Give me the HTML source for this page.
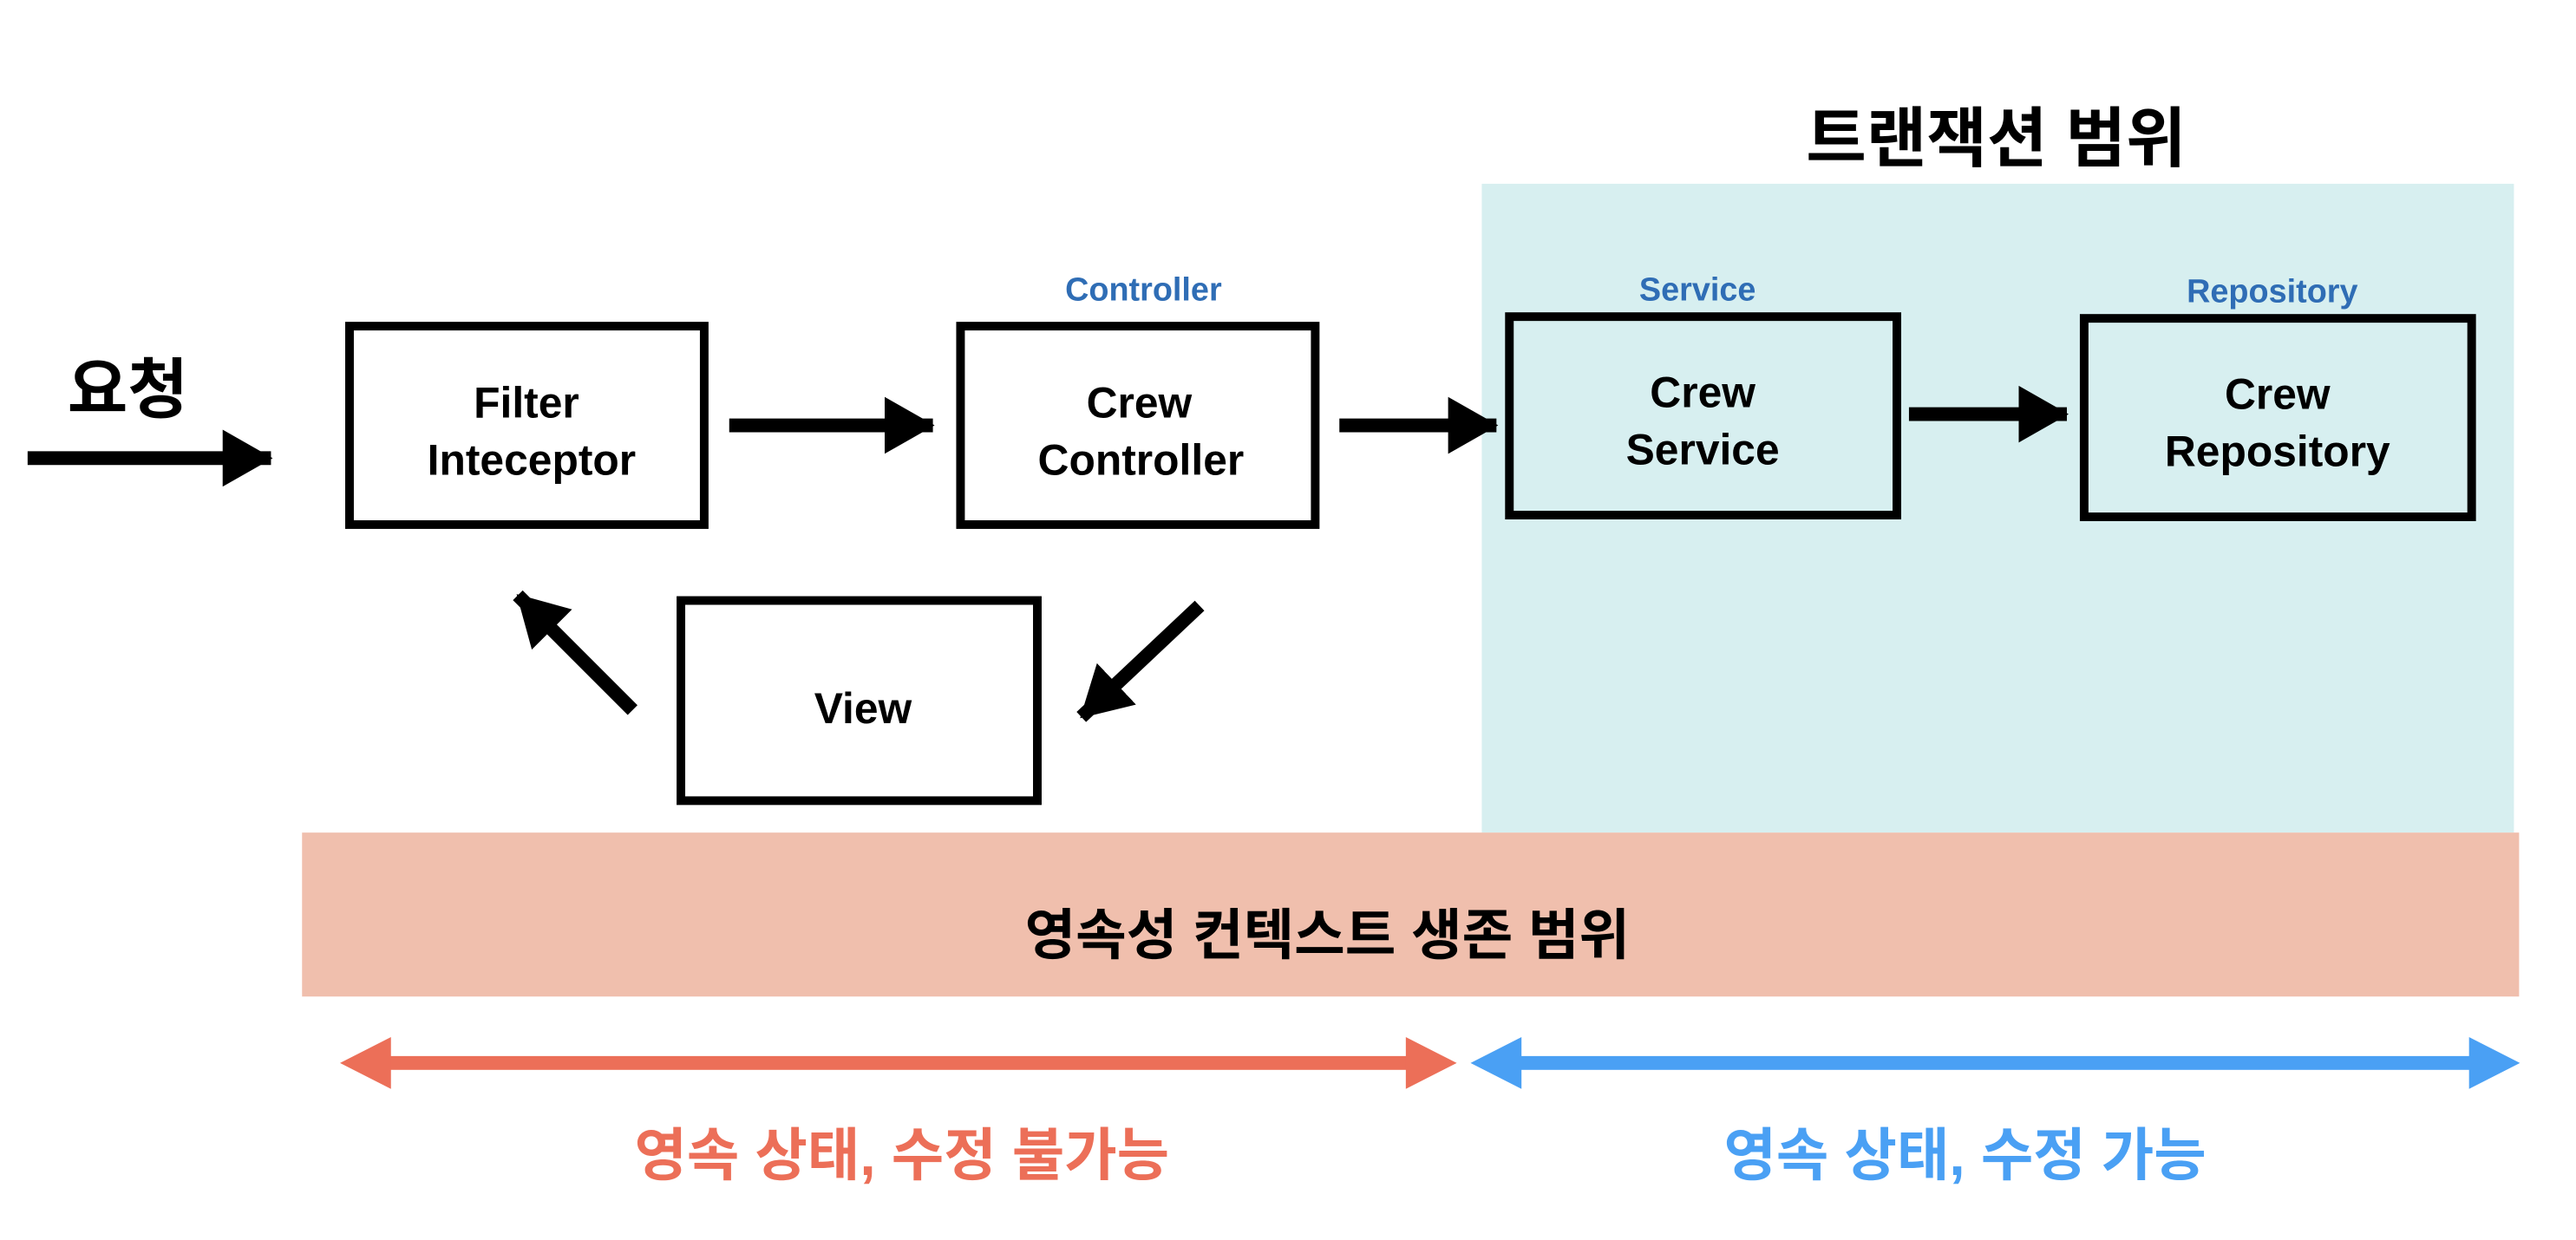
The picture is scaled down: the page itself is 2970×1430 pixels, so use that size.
<!DOCTYPE html>
<html><head><meta charset="utf-8"><style>
html,body{margin:0;padding:0;background:#fff;}
svg{display:block;}
text{font-family:"Liberation Sans","Noto Sans CJK KR",sans-serif;font-weight:bold;text-anchor:middle;}
</style></head><body>
<svg width="2970" height="1430" viewBox="0 0 2970 1430" xmlns="http://www.w3.org/2000/svg">
<defs>
<marker id="ah" markerUnits="userSpaceOnUse" markerWidth="60" markerHeight="66" refX="56" refY="33" orient="auto"><path d="M0,0 L58,33 L0,66 Z" fill="#000"/></marker>
</defs>
<g transform="scale(0.995)">
<rect x="1717" y="213" width="1196" height="752" fill="#d7eff0"/>
<rect x="350" y="965" width="2569" height="190" fill="#f0bfad"/>
<text x="2313" y="187" font-size="76" fill="#000">트랜잭션 범위</text>
<text x="1538" y="1106" font-size="64" fill="#000">영속성 컨텍스트 생존 범위</text>

<g fill="none" stroke="#000" stroke-width="10">
<rect x="405" y="378" width="411" height="230" fill="#fff"/>
<rect x="1113" y="378" width="411" height="230" fill="#fff"/>
<rect x="1749" y="367" width="449" height="230"/>
<rect x="2415" y="369" width="449" height="230"/>
<rect x="789" y="696" width="413" height="232" fill="#fff"/>
</g>

<text x="610" y="484" font-size="50">Filter</text>
<text x="616" y="550" font-size="50">Inteceptor</text>
<text x="1320" y="484" font-size="50">Crew</text>
<text x="1322" y="550" font-size="50">Controller</text>
<text x="1973" y="472" font-size="50">Crew</text>
<text x="1973" y="538" font-size="50">Service</text>
<text x="2639" y="474" font-size="50">Crew</text>
<text x="2639" y="540" font-size="50">Repository</text>
<text x="1000" y="838" font-size="50">View</text>

<text x="1325" y="348" font-size="38" fill="#2f6db5">Controller</text>
<text x="1967" y="348" font-size="38" fill="#2f6db5">Service</text>
<text x="2633" y="350" font-size="38" fill="#2f6db5">Repository</text>

<text x="148" y="478" font-size="76">요청</text>

<g stroke="#000" stroke-width="16" marker-end="url(#ah)">
<line x1="32" y1="531" x2="314" y2="531"/>
<line x1="845" y1="493" x2="1081" y2="493"/>
<line x1="1552" y1="493" x2="1734" y2="493"/>
<line x1="2212" y1="480" x2="2395" y2="480"/>
<line x1="1390" y1="702" x2="1253" y2="831"/>
<line x1="733" y1="823" x2="600" y2="690"/>
</g>

<g fill="#ec6f58">
<rect x="450" y="1224" width="1180" height="16"/>
<path d="M394,1232 L453,1202 L453,1262 Z"/>
<path d="M1688,1232 L1629,1202 L1629,1262 Z"/>
</g>
<g fill="#4aa0f4">
<rect x="1760" y="1224" width="1105" height="16"/>
<path d="M1704,1232 L1763,1202 L1763,1262 Z"/>
<path d="M2920,1232 L2861,1202 L2861,1262 Z"/>
</g>

<text x="1045" y="1362" font-size="66" fill="#ec6f58">영속 상태, 수정 불가능</text>
<text x="2277" y="1362" font-size="66" fill="#4aa0f4">영속 상태, 수정 가능</text>
</g>
</svg>
</body></html>
